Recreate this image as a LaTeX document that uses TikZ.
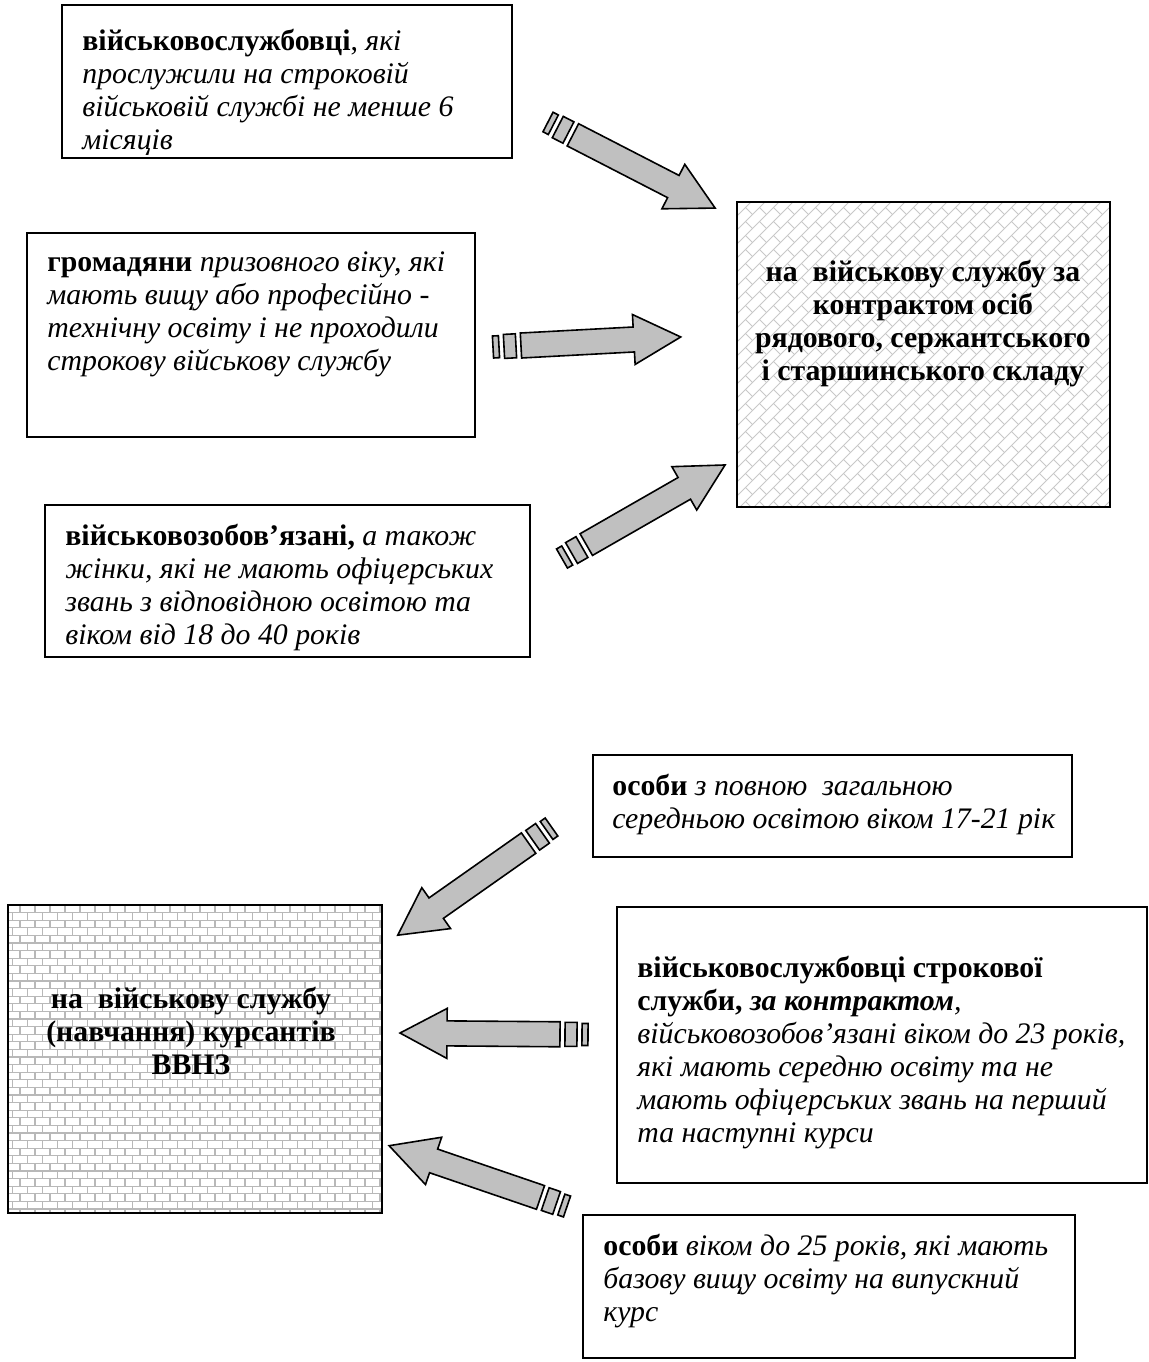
\documentclass[tikz,border=0pt]{standalone}
\usepackage{fontspec}
\setmainfont{Liberation Serif}
\usetikzlibrary{calc,fit}
\definecolor{arrgray}{HTML}{C0C0C0}
\definecolor{patgray}{HTML}{C8C8C8}
\definecolor{brickgray}{HTML}{B8B8B8}
\tikzset{
  box/.style={draw=black, line width=1pt, inner sep=0pt},
  txt/.style={inner sep=0pt, anchor=north west, align=left, font=\fontsize{14.9pt}{16.5pt}\selectfont},
  ctxt/.style={inner sep=0pt, anchor=north, align=center, font=\fontsize{14.9pt}{16.5pt}\selectfont\bfseries},
  arr/.style={draw=black, line width=0.8pt, fill=arrgray, line join=miter},
  pat/.style={draw=patgray, line width=0.5pt},
  brick/.style={draw=brickgray, line width=0.55pt},
}
\newcommand\stripearrow[2]{%
  \pgfmathanglebetweenpoints{\pgfpointanchor{#1}{center}}{\pgfpointanchor{#2}{center}}%
  \let\arrang\pgfmathresult
  \begin{scope}[shift={(#1)}, rotate=\arrang, x=0.5pt, y=0.5pt]
    \draw[arr] (0,-11) rectangle (6,11);
    \draw[arr] (11,-12) rectangle (23,12);
    \draw[arr] (28,-12.5) -- (141,-12.5) -- (141,-25) -- (188,0) -- (141,25) -- (141,12.5) -- (28,12.5) -- cycle;
  \end{scope}}
\begin{document}
\begin{tikzpicture}[x=0.5pt,y=-0.5pt]
\useasboundingbox (0,0) rectangle (1149,1362);
\fill[white] (0,0) rectangle (1149,1362);

% diagonal brick pattern of the upper target box
\begin{scope}
  \clip (737,202) rectangle (1110,507);
  \foreach \k in {0,...,49}{
    \pgfmathsetmacro\cc{939+14*\k}
    \pgfmathsetmacro\off{mod(\k,2)*14}
    \draw[pat] (737,\cc-737) -- (1110,\cc-1110);
    \foreach \j in {0,...,25}{
      \pgfmathsetmacro\uu{216+28*\j+\off}
      \draw[pat] ({(\cc+\uu)/2},{(\cc-\uu)/2}) -- ({(\cc+14+\uu)/2},{(\cc+14-\uu)/2});
    }
  }
\end{scope}

% horizontal brick pattern of the lower target box
\begin{scope}
  \clip (8,905) rectangle (382,1213);
  \foreach \r in {0,...,41}{
    \pgfmathsetmacro\yy{905+7.6*\r}
    \pgfmathsetmacro\xo{mod(\r,2)*7.5}
    \draw[brick] (8,\yy) -- (382,\yy);
    \foreach \q in {0,...,25}{
      \draw[brick] ({5+\xo+15*\q},\yy) -- ++(0,7.6);
    }
  }
\end{scope}

% boxes
\node[box, fit={(62,5) (512,158)}] (boxA) {};
\node[box, fit={(27,233) (475,437)}] (boxB) {};
\node[box, fit={(45,505) (530,657)}] (boxC) {};
\node[box, fit={(737,202) (1110,507)}] (boxD) {};
\node[box, fit={(593,755) (1072,857)}] (boxF) {};
\node[box, fit={(8,905) (382,1213)}] (boxE) {};
\node[box, fit={(617,907) (1147,1183)}] (boxG) {};
\node[box, fit={(583,1215) (1075,1358)}] (boxH) {};

% texts
\node[txt] (tA) at (82,26.9) {\strut\textbf{військовослужбовці}, \textit{які}\\
\textit{прослужили на строковій}\\
\textit{військовій службі не менше 6}\\
\textit{місяців}};

\node[txt] (tB) at (47,247.9) {\strut\textbf{громадяни} \textit{призовного віку, які}\\
\textit{мають вищу або професійно -}\\
\textit{технічну освіту і не проходили}\\
\textit{строкову військову службу}};

\node[txt] (tC) at (65,521.9) {\strut\textbf{військовозобов’язані,} \textit{а також}\\
\textit{жінки, які не мають офіцерських}\\
\textit{звань з відповідною освітою та}\\
\textit{віком від 18 до 40 років}};

\node[ctxt] (tD) at (923,257.9) {\strut на\ \ військову службу за\\
контрактом осіб\\
рядового, сержантського\\
і старшинського складу};

\node[txt] (tF) at (612,771.9) {\strut\textbf{особи} \textit{з повною\ \ загальною}\\
\textit{середньою освітою віком 17-21 рік}};

\node[ctxt] (tE) at (191,985.4) {\strut на\ \ військову службу\\
(навчання) курсантів\\
ВВНЗ};

\node[txt] (tG) at (637,953.9) {\strut\textbf{військовослужбовці строкової}\\
\textbf{служби,} \textbf{\textit{за контрактом}}\textit{,}\\
\textit{військовозобов’язані віком до 23 років,}\\
\textit{які мають середню освіту та не}\\
\textit{мають офіцерських звань на перший}\\
\textit{та наступні курси}};

\node[txt] (tH) at (603,1231.9) {\strut\textbf{особи} \textit{віком до 25 років, які мають}\\
\textit{базову вищу освіту на випускний}\\
\textit{курс}};

% arrows
\coordinate (a1s) at (548,122);    \coordinate (a1t) at (715,208);
\coordinate (a2s) at (493,347);    \coordinate (a2t) at (680,337);
\coordinate (a3s) at (562,558.5);  \coordinate (a3t) at (725,465);
\coordinate (a4s) at (551.5,827);  \coordinate (a4t) at (398,935);
\coordinate (a5s) at (588,1034.5); \coordinate (a5t) at (400,1033);
\coordinate (a6s) at (567,1206.5); \coordinate (a6t) at (390,1146);
\stripearrow{a1s}{a1t}
\stripearrow{a2s}{a2t}
\stripearrow{a3s}{a3t}
\stripearrow{a4s}{a4t}
\stripearrow{a5s}{a5t}
\stripearrow{a6s}{a6t}
\end{tikzpicture}
\end{document}
